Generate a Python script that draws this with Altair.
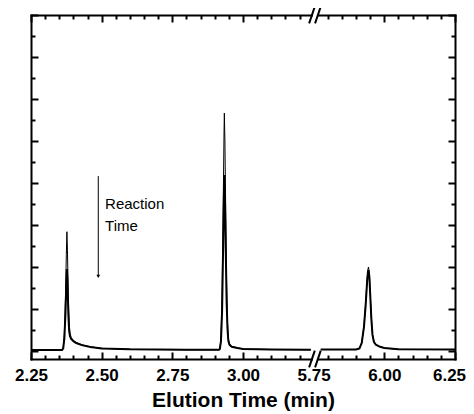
import altair as alt
import pandas as pd

# ---------------- data ----------------
times = [
    2.250, 2.360, 2.364, 2.368, 2.372, 2.375, 2.377, 2.379, 2.382, 2.385,
    2.388, 2.392, 2.400, 2.410, 2.430, 2.460, 2.500, 2.600, 2.800, 2.915,
    2.918, 2.922, 2.926, 2.930, 2.933, 2.934, 2.936, 2.939, 2.942, 2.945,
    2.948, 2.952, 2.960, 2.980, 3.000, 3.100, 3.240,
    5.775, 5.900, 5.912, 5.920, 5.928, 5.934, 5.939, 5.942, 5.944, 5.947,
    5.950, 5.954, 5.958, 5.963, 5.970, 5.985, 6.000, 6.050, 6.250,
]
signal_early = [
    0.05, 0.05, 0.15, 0.8, 2.6, 4.6, 5.68, 4.8, 2.6, 1.3,
    0.85, 0.65, 0.5, 0.4, 0.3, 0.2, 0.13, 0.08, 0.06, 0.06,
    0.1, 0.6, 2.5, 7.0, 10.5, 11.33, 10.0, 6.5, 3.2, 1.4,
    0.6, 0.35, 0.22, 0.15, 0.1, 0.07, 0.06,
    0.07, 0.07, 0.12, 0.4, 1.2, 2.3, 3.4, 3.9, 4.0, 3.7,
    2.8, 1.6, 0.8, 0.45, 0.3, 0.2, 0.14, 0.08, 0.07,
]
signal_late = [
    0.05, 0.05, 0.13, 0.6, 1.8, 3.2, 3.9, 3.3, 1.8, 0.95,
    0.7, 0.58, 0.47, 0.38, 0.28, 0.19, 0.12, 0.08, 0.06, 0.06,
    0.1, 0.45, 1.9, 5.2, 7.8, 8.38, 7.4, 4.8, 2.4, 1.1,
    0.5, 0.3, 0.2, 0.14, 0.1, 0.07, 0.06,
    0.07, 0.07, 0.12, 0.38, 1.15, 2.2, 3.3, 3.75, 3.85, 3.55,
    2.7, 1.55, 0.78, 0.44, 0.3, 0.2, 0.14, 0.08, 0.07,
]

# broken x axis: 2.25-3.25 then 5.75-6.25
break_left = 3.25
break_right = 5.75
label_times = [2.25, 2.50, 2.75, 3.00, 5.75, 6.00, 6.25]
major_tick_times = [2.25, 2.50, 2.75, 3.00, 6.00, 6.25]
minor_tick_times = [2.30, 2.35, 2.40, 2.45, 2.55, 2.60, 2.65, 2.70,
                    2.80, 2.85, 2.90, 2.95, 3.05, 3.10, 3.15, 3.20,
                    5.80, 5.85, 5.90, 5.95, 6.05, 6.10, 6.15, 6.20]
y_major = [0, 2, 4, 6, 8, 10, 12, 14, 16]
y_minor = [1, 3, 5, 7, 9, 11, 13, 15]
y_domain = [-0.38, 16]

arrow_time = [2.488]
arrow_top = [8.33]
arrow_bottom = [3.55]
note_lines = ["Reaction", "Time"]
note_time = [2.512, 2.512]
note_y = [7.0, 5.95]

slash_centers = [3.244, 3.265]
slash_dx = 0.010
slash_dy = 0.40
gap_span = [3.2475, 3.2625]


def shift(t):
    return t if t <= break_left else t - (break_right - break_left)


# ---------------- tables ----------------
rows = []
for name, sig in (("early", signal_early), ("late", signal_late)):
    for t, v in zip(times, sig):
        rows.append({"time": t, "signal": v, "trace": name,
                     "seg": 1 if t <= break_left else 2})
df = pd.DataFrame(rows)

anchor = pd.DataFrame({"tx": [2.25], "signal": [0.0]})
FONT = "Liberation Sans"
XS = alt.Scale(domain=[2.25, 3.75], nice=False, zero=False)
YS = alt.Scale(domain=y_domain, nice=False, zero=False)

label_vals = [shift(t) for t in label_times]
major_vals = [shift(t) for t in major_tick_times]
minor_vals = [shift(t) for t in minor_tick_times]


def tick_axis(orient, vals, size):
    return alt.Axis(orient=orient, values=vals, tickSize=size, offset=-size,
                    tickWidth=2, tickColor="black", labels=False, domain=False,
                    grid=False, title=None)


def frame_axis(orient):
    return alt.Axis(orient=orient, labels=False, ticks=False, domain=True,
                    domainColor="black", domainWidth=2, domainCap="square",
                    grid=False, title=None)


base = alt.Chart(df).transform_calculate(
    tx=f"datum.time <= {break_left} ? datum.time : datum.time - {break_right - break_left}"
)

label_expr = (f"datum.value > {break_left - 0.01} ? format(datum.value + "
              f"{break_right - break_left}, '.2f') : format(datum.value, '.2f')")

thick = base.transform_filter(alt.datum.trace == "late").mark_line(
    color="black", strokeWidth=2
).encode(
    x=alt.X("tx:Q", scale=XS, axis=alt.Axis(
        orient="bottom", values=label_vals, labelExpr=label_expr, ticks=False,
        domain=True, domainColor="black", domainWidth=2, domainCap="square",
        labelFont=FONT, labelFontSize=17, labelFontWeight="bold", labelColor="black",
        labelPadding=8, labelFlush=False, labelOverlap=False, labelBound=False,
        labelOffset={"condition": {"test": "datum.value > 3.7", "value": -6}, "value": 0},
        grid=False, title="Elution Time (min)", titleFont=FONT, titleFontSize=21,
        titleFontWeight="bold", titleColor="black", titlePadding=6)),
    y=alt.Y("signal:Q", scale=YS, axis=frame_axis("left")),
    detail="seg:N",
    order="time:Q",
)

thin = base.transform_filter(alt.datum.trace == "early").mark_line(
    color="black", strokeWidth=1
).encode(
    x=alt.X("tx:Q", scale=XS, axis=None),
    y=alt.Y("signal:Q", scale=YS, axis=None),
    detail="seg:N",
    order="time:Q",
)

frame_tr = alt.Chart(anchor).mark_point(opacity=0).encode(
    x=alt.X("tx:Q", scale=XS, axis=frame_axis("top")),
    y=alt.Y("signal:Q", scale=YS, axis=frame_axis("right")),
)
ticks_bl_major = alt.Chart(anchor).mark_point(opacity=0).encode(
    x=alt.X("tx:Q", scale=XS, axis=tick_axis("bottom", major_vals, 7)),
    y=alt.Y("signal:Q", scale=YS, axis=tick_axis("left", y_major, 7)),
)
ticks_bl_minor = alt.Chart(anchor).mark_point(opacity=0).encode(
    x=alt.X("tx:Q", scale=XS, axis=tick_axis("bottom", minor_vals, 4)),
    y=alt.Y("signal:Q", scale=YS, axis=tick_axis("left", y_minor, 4)),
)
ticks_tr_major = alt.Chart(anchor).mark_point(opacity=0).encode(
    x=alt.X("tx:Q", scale=XS, axis=tick_axis("top", major_vals, 7)),
    y=alt.Y("signal:Q", scale=YS, axis=tick_axis("right", y_major, 7)),
)
ticks_tr_minor = alt.Chart(anchor).mark_point(opacity=0).encode(
    x=alt.X("tx:Q", scale=XS, axis=tick_axis("top", minor_vals, 4)),
    y=alt.Y("signal:Q", scale=YS, axis=tick_axis("right", y_minor, 4)),
)

# break markers
gap_df = pd.DataFrame({"x1": [gap_span[0]] * 2, "x2": [gap_span[1]] * 2,
                       "yy": [y_domain[0], y_domain[1]]})
gap = alt.Chart(gap_df).mark_rule(color="white", strokeWidth=5).encode(
    x=alt.X("x1:Q", scale=XS, axis=None), x2="x2:Q",
    y=alt.Y("yy:Q", scale=YS, axis=None),
)
slash_rows = []
for yc in (y_domain[0], y_domain[1]):
    for xc in slash_centers:
        slash_rows.append({"x1": xc - slash_dx, "x2": xc + slash_dx,
                           "y1": yc - slash_dy, "y2": yc + slash_dy})
slashes = alt.Chart(pd.DataFrame(slash_rows)).mark_rule(
    color="black", strokeWidth=2
).encode(
    x=alt.X("x1:Q", scale=XS, axis=None), x2="x2:Q",
    y=alt.Y("y1:Q", scale=YS, axis=None), y2="y2:Q",
)

# annotation
arrow_df = pd.DataFrame({"t": arrow_time, "top": arrow_top, "bot": arrow_bottom})
arrow = alt.Chart(arrow_df).mark_rule(color="black", strokeWidth=1).encode(
    x=alt.X("t:Q", scale=XS, axis=None),
    y=alt.Y("top:Q", scale=YS, axis=None), y2="bot:Q",
)
head = alt.Chart(arrow_df).mark_point(
    shape="triangle-down", filled=True, color="black", size=14, opacity=1
).encode(
    x=alt.X("t:Q", scale=XS, axis=None),
    y=alt.Y("bot:Q", scale=YS, axis=None),
)
note_df = pd.DataFrame({"t": note_time, "y": note_y, "txt": note_lines})
note = alt.Chart(note_df).mark_text(
    align="left", baseline="middle", font=FONT, fontSize=15, color="black"
).encode(
    x=alt.X("t:Q", scale=XS, axis=None),
    y=alt.Y("y:Q", scale=YS, axis=None),
    text="txt:N",
)

chart = alt.layer(
    frame_tr, ticks_bl_major, ticks_bl_minor, ticks_tr_major, ticks_tr_minor,
    thick, thin, gap, slashes, arrow, head, note,
).resolve_axis(x="independent", y="independent").properties(
    width=424, height=344,
    autosize=alt.AutoSizeParams(type="none"),
    padding={"left": 23, "top": 7, "right": 11, "bottom": 52},
).configure_view(stroke="transparent")

chart.save("out.html", embed_options={"renderer": "svg", "actions": False})
